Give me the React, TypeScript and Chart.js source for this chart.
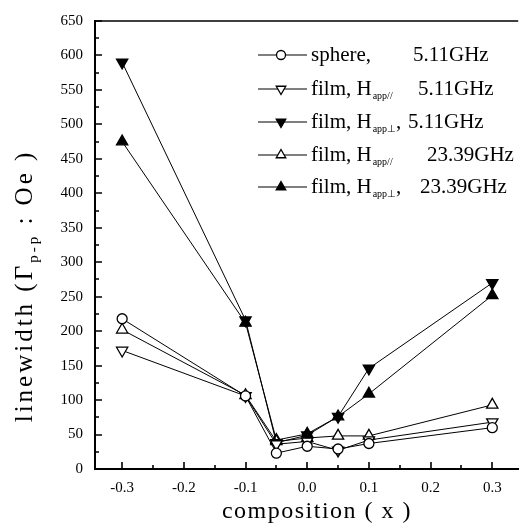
import { useEffect, useRef } from 'react';
import { Chart, registerables } from 'chart.js';

Chart.register(...registerables);

const compositions = [-0.3, -0.1, -0.05, 0, 0.05, 0.1, 0.3];
const sphere511 = [218, 106, 23, 33, 29, 37, 60];
const filmPar511 = [172, 106, 36, 40, 27, 42, 68];
const filmPerp511 = [590, 216, 38, 49, 76, 146, 270];
const filmPar2339 = [202, 107, 40, 45, 48, 48, 93];
const filmPerp2339 = [475, 212, 42, 51, 76, 109, 252];

const xTickValues = [-0.3, -0.2, -0.1, 0, 0.1, 0.2, 0.3];
const xMinorValues = [-0.25, -0.15, -0.05, 0.05, 0.15, 0.25];
const yTickValues = [0, 50, 100, 150, 200, 250, 300, 350, 400, 450, 500, 550, 600, 650];
const yMinorValues = [25, 75, 125, 175, 225, 275, 325, 375, 425, 475, 525, 575, 625];

const legendMain = ['sphere,', 'film, H', 'film, H', 'film, H', 'film, H'];
const legendSub = ['', 'app//', 'app⊥', 'app//', 'app⊥'];
const legendTail = ['', '', ',', '', ','];
const legendFreq = ['5.11GHz', '5.11GHz', '5.11GHz', '23.39GHz', '23.39GHz'];

const xTitle = 'composition ( x )';
const yTitleMain = 'linewidth (Γ';
const yTitleSub = 'p-p';
const yTitleTail = ' : Oe )';

const SERIF = '"Liberation Serif", "Times New Roman", serif';

type MarkerDef = { style: 'circle' | 'triangle'; rotation: number; filled: boolean };
const markers: MarkerDef[] = [
  { style: 'circle', rotation: 0, filled: false },
  { style: 'triangle', rotation: 180, filled: false },
  { style: 'triangle', rotation: 180, filled: true },
  { style: 'triangle', rotation: 0, filled: false },
  { style: 'triangle', rotation: 0, filled: true },
];
const seriesValues = [sphere511, filmPar511, filmPerp511, filmPar2339, filmPerp2339];

function drawMarker(ctx: CanvasRenderingContext2D, m: MarkerDef, x: number, y: number, r: number) {
  ctx.save();
  ctx.beginPath();
  if (m.style === 'circle') {
    ctx.arc(x, y, r, 0, Math.PI * 2);
  } else {
    let a = (m.rotation * Math.PI) / 180;
    ctx.moveTo(x + Math.sin(a) * r, y - Math.cos(a) * r);
    a += (2 * Math.PI) / 3;
    ctx.lineTo(x + Math.sin(a) * r, y - Math.cos(a) * r);
    a += (2 * Math.PI) / 3;
    ctx.lineTo(x + Math.sin(a) * r, y - Math.cos(a) * r);
    ctx.closePath();
  }
  ctx.fillStyle = m.filled ? '#000' : '#fff';
  ctx.fill();
  ctx.lineWidth = 1.3;
  ctx.strokeStyle = '#000';
  ctx.stroke();
  ctx.restore();
}

const decorPlugin = {
  id: 'decor',
  afterDraw(chart: any) {
    const ctx: any = chart.ctx;
    const xs = chart.scales.x;
    const ys = chart.scales.y;
    const area = chart.chartArea;
    ctx.save();
    ctx.strokeStyle = '#000';
    ctx.lineWidth = 1.5;
    // top frame line
    ctx.beginPath();
    ctx.moveTo(area.left, area.top);
    ctx.lineTo(area.right, area.top);
    ctx.stroke();
    // inward ticks
    ctx.lineWidth = 1.6;
    ctx.beginPath();
    xTickValues.forEach((v) => {
      const px = Math.round(xs.getPixelForValue(v));
      ctx.moveTo(px, area.bottom);
      ctx.lineTo(px, area.bottom - 7);
    });
    xMinorValues.forEach((v) => {
      const px = Math.round(xs.getPixelForValue(v));
      ctx.moveTo(px, area.bottom);
      ctx.lineTo(px, area.bottom - 4);
    });
    yTickValues.forEach((v) => {
      const py = Math.round(ys.getPixelForValue(v));
      ctx.moveTo(area.left, py);
      ctx.lineTo(area.left + 7, py);
    });
    yMinorValues.forEach((v) => {
      const py = Math.round(ys.getPixelForValue(v));
      ctx.moveTo(area.left, py);
      ctx.lineTo(area.left + 4, py);
    });
    ctx.stroke();

    // titles
    ctx.fillStyle = '#000';
    ctx.textBaseline = 'alphabetic';
    ctx.font = `24px ${SERIF}`;
    ctx.letterSpacing = '1.5px';
    ctx.textAlign = 'center';
    ctx.fillText(xTitle, 317, 518);

    ctx.save();
    ctx.translate(32, 286);
    ctx.rotate(-Math.PI / 2);
    ctx.textAlign = 'left';
    ctx.letterSpacing = '3px';
    ctx.font = `25px ${SERIF}`;
    const w1 = ctx.measureText(yTitleMain).width;
    ctx.font = `15px ${SERIF}`;
    const w2 = ctx.measureText(yTitleSub).width;
    ctx.font = `25px ${SERIF}`;
    const w3 = ctx.measureText(yTitleTail).width;
    let cx = -(w1 + w2 + w3) / 2;
    ctx.fillText(yTitleMain, cx, 0);
    cx += w1;
    ctx.font = `15px ${SERIF}`;
    ctx.fillText(yTitleSub, cx, 6);
    cx += w2;
    ctx.font = `25px ${SERIF}`;
    ctx.fillText(yTitleTail, cx, 0);
    ctx.restore();
    ctx.letterSpacing = '0px';

    // legend
    const rowY = [55, 89, 122, 155, 187];
    const freqX = [413, 418, 408, 427, 420];
    ctx.textAlign = 'left';
    markers.forEach((m, i) => {
      const y = rowY[i];
      ctx.lineWidth = 1.2;
      ctx.beginPath();
      ctx.moveTo(258, y);
      ctx.lineTo(307, y);
      ctx.stroke();
      drawMarker(ctx, m, 281, y, m.style === 'circle' ? 4.5 : 5.5);
      const base = y + 6;
      ctx.font = `21px ${SERIF}`;
      ctx.fillText(legendMain[i], 311, base);
      let tx = 311 + ctx.measureText(legendMain[i]).width;
      if (legendSub[i]) {
        ctx.font = `10px ${SERIF}`;
        ctx.fillText(legendSub[i], tx + 1, base + 4);
        tx += 1 + ctx.measureText(legendSub[i]).width;
        ctx.font = `21px ${SERIF}`;
        if (legendTail[i]) ctx.fillText(legendTail[i], tx, base);
      }
      ctx.font = `21px ${SERIF}`;
      ctx.fillText(legendFreq[i], freqX[i], base);
    });
    ctx.restore();
  },
};

export default function App() {
  const canvasRef = useRef<HTMLCanvasElement | null>(null);
  useEffect(() => {
    if (!canvasRef.current) return;
    const datasets = seriesValues.map((vals, i) => {
      const m = markers[i];
      return {
        label: legendMain[i] + legendSub[i] + legendTail[i] + ' ' + legendFreq[i],
        data: compositions.map((x, j) => ({ x, y: vals[j] })),
        borderColor: '#000',
        borderWidth: 1,
        pointStyle: m.style,
        rotation: m.rotation,
        pointRadius: m.style === 'circle' ? 5 : 6.5,
        pointBorderWidth: 1.3,
        pointBackgroundColor: m.filled ? '#000' : '#fff',
        pointBorderColor: '#000',
        showLine: true,
        fill: false,
        tension: 0,
      };
    });
    const chart = new Chart(canvasRef.current, {
      type: 'line',
      data: { datasets },
      options: {
        animation: false,
        responsive: true,
        maintainAspectRatio: false,
        layout: { padding: { top: 15, right: 7, left: 0, bottom: 0 } },
        plugins: { legend: { display: false }, tooltip: { enabled: false } },
        scales: {
          x: {
            type: 'linear',
            min: -0.344,
            max: 0.342,
            grid: { display: false, drawTicks: false },
            border: { display: true, color: '#000', width: 2 },
            afterBuildTicks: (s: any) => {
              s.ticks = xTickValues.map((value) => ({ value }));
            },
            afterFit: (s: any) => {
              s.height = 55;
            },
            ticks: {
              padding: 10,
              color: '#000',
              font: { family: SERIF, size: 15 },
              callback: (v: any) => Number(v).toFixed(1),
            },
          },
          y: {
            type: 'linear',
            min: 0,
            max: 650,
            grid: { display: false, drawTicks: false },
            border: { display: true, color: '#000', width: 2 },
            afterBuildTicks: (s: any) => {
              s.ticks = yTickValues.map((value) => ({ value }));
            },
            afterFit: (s: any) => {
              s.width = 95;
            },
            ticks: {
              padding: 12,
              color: '#000',
              font: { family: SERIF, size: 15 },
              callback: (v: any) => String(v),
            },
          },
        },
      },
      plugins: [decorPlugin],
    });
    return () => chart.destroy();
  }, []);
  return (
    <div style={{ position: 'fixed', left: 0, top: 0, width: 526, height: 524, background: '#fff' }}>
      <canvas ref={canvasRef} />
    </div>
  );
}
